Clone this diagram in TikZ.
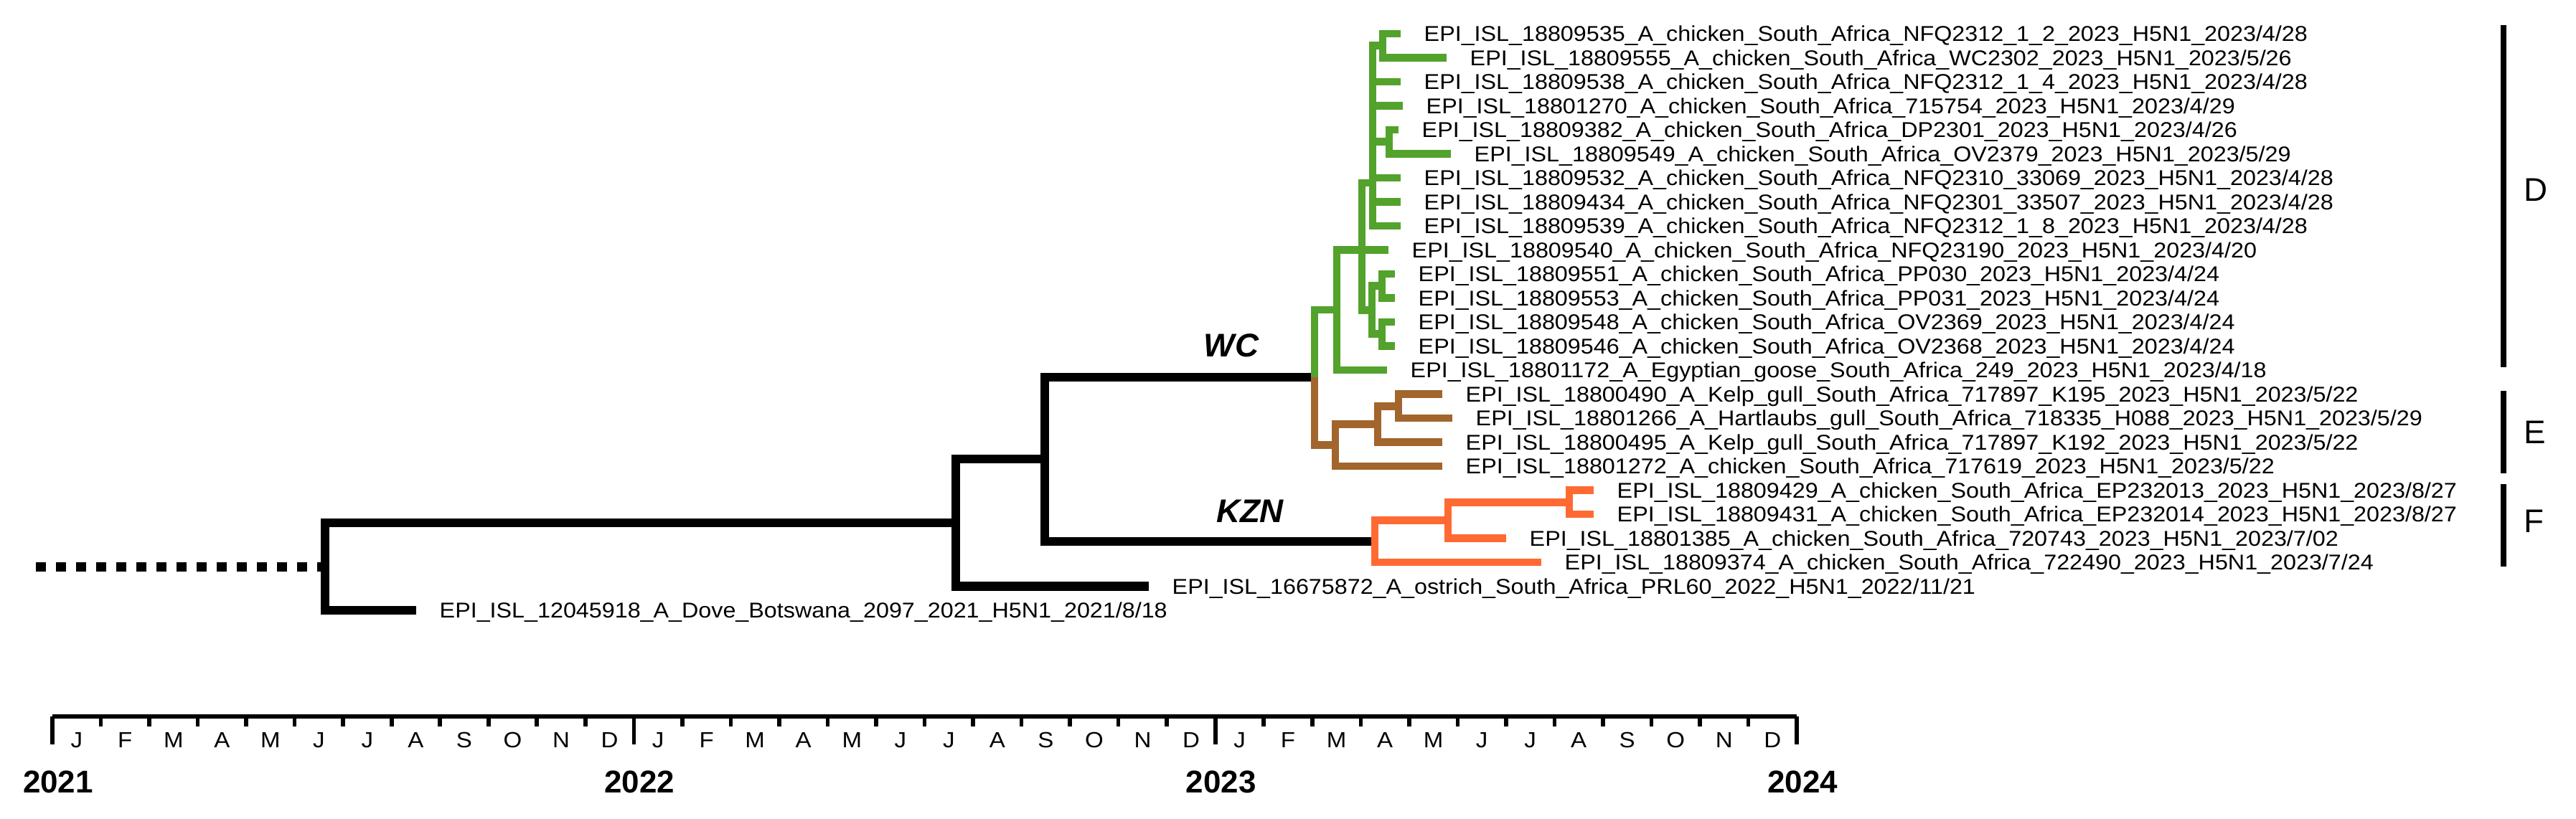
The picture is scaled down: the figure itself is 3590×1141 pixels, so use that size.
\documentclass[tikz,border=0pt]{standalone}
\usepackage{fontspec}
\setmainfont{Liberation Sans}
\newfontfamily\tipfont{Liberation Sans}[FakeStretch=1.08]
\usepackage{tikz}
\usetikzlibrary{positioning}
\definecolor{WCgreen}{HTML}{52A22C}
\definecolor{WCbrown}{HTML}{A2652C}
\definecolor{KZNorange}{HTML}{FF6A33}

\begin{document}
\begin{tikzpicture}[x=0.01cm, y=-0.01cm,
                    branch/.style={line width=3.6pt},
                    rootstem/.style={line width=3.7pt, dash pattern=on 0.14cm off 0.14cm},
                    cladeD/.style={line width=3.1pt, draw=WCgreen},
                    cladeE/.style={line width=3.1pt, draw=WCbrown},
                    cladeF/.style={line width=3.1pt, draw=KZNorange},
                    tiplabel/.style={font=\tipfont\fontsize{8.5}{10}\selectfont, inner sep=0pt,
                                     text height=6.1pt, text depth=0pt},
                    cladename/.style={font=\fontsize{13}{15}\selectfont\bfseries\itshape, inner sep=0pt},
                    cladebar/.style={line width=2.4pt},
                    groupname/.style={font=\fontsize{13}{15}\selectfont, inner sep=0pt, anchor=west},
                    axisline/.style={line width=1.6pt},
                    monthname/.style={font=\tipfont\fontsize{8.7}{10}\selectfont, inner sep=0pt},
                    yearname/.style={font=\fontsize{12.5}{15}\selectfont\bfseries, inner sep=0pt}]
\useasboundingbox (0,0) rectangle (3590,1141);

\coordinate (stem) at (50,790);
\coordinate (root) at (453,790);
\coordinate (nR2) at (1332,729);
\coordinate (nW) at (1456,640);
\coordinate (nJ) at (1832,526);
\coordinate (nK) at (1916,755);
\coordinate (nG) at (1863,432);
\coordinate (nU) at (1898,348.5);
\coordinate (nA) at (1913,255);
\coordinate (n12) at (1927,63.75);
\coordinate (n56) at (1936,197.75);
\coordinate (nL) at (1912,432.25);
\coordinate (nL1) at (1926,398.75);
\coordinate (nL2) at (1926,465.75);
\coordinate (nB1) at (1861,620.7);
\coordinate (nB2) at (1920,591.4);
\coordinate (nB3) at (1949,566.25);
\coordinate (nO1) at (2018,725.4);
\coordinate (nO2) at (2187,700.25);

\coordinate (t1) at (1952,47);
\coordinate (t2) at (2016,80.5);
\coordinate (t3) at (1952,114);
\coordinate (t4) at (1955,147.5);
\coordinate (t5) at (1949,181);
\coordinate (t6) at (2022,214.5);
\coordinate (t7) at (1952,248);
\coordinate (t8) at (1952,281.5);
\coordinate (t9) at (1952,315);
\coordinate (t10) at (1935,348.5);
\coordinate (t11) at (1944,382);
\coordinate (t12) at (1944,415.5);
\coordinate (t13) at (1944,449);
\coordinate (t14) at (1944,482.5);
\coordinate (t15) at (1933,516);
\coordinate (t16) at (2010,549.5);
\coordinate (t17) at (2024,583);
\coordinate (t18) at (2010,616.5);
\coordinate (t19) at (2010,650);
\coordinate (t20) at (2221,683.5);
\coordinate (t21) at (2221,717);
\coordinate (t22) at (2099,750.5);
\coordinate (t23) at (2148,784);
\coordinate (t24) at (1601,817.5);
\coordinate (t25) at (580,851);

\draw[rootstem] (stem) -- (root);
\foreach \p/\c in {root/nR2, root/t25, nR2/nW, nR2/t24, nW/nJ, nW/nK}
  \draw[branch] (\p) |- (\c);
\foreach \p/\c in {nJ/nG, nG/nU, nG/t15, nU/nA, nU/t10, nU/nL,
                   nA/n12, nA/t3, nA/t4, nA/n56, nA/t7, nA/t8, nA/t9,
                   n12/t1, n12/t2, n56/t5, n56/t6,
                   nL/nL1, nL/nL2, nL1/t11, nL1/t12, nL2/t13, nL2/t14}
  \draw[cladeD] (\p) |- (\c);
\foreach \p/\c in {nJ/nB1, nB1/nB2, nB1/t19, nB2/nB3, nB2/t18, nB3/t16, nB3/t17}
  \draw[cladeE] (\p) |- (\c);
\foreach \p/\c in {nK/nO1, nK/t23, nO1/nO2, nO1/t22, nO2/t20, nO2/t21}
  \draw[cladeF] (\p) |- (\c);

\node[right=0.32cm of t1, tiplabel] (l1) {EPI\_ISL\_18809535\_A\_chicken\_South\_Africa\_NFQ2312\_1\_2\_2023\_H5N1\_2023/4/28};
\node[right=0.32cm of t2, tiplabel] (l2) {EPI\_ISL\_18809555\_A\_chicken\_South\_Africa\_WC2302\_2023\_H5N1\_2023/5/26};
\node[right=0.32cm of t3, tiplabel] (l3) {EPI\_ISL\_18809538\_A\_chicken\_South\_Africa\_NFQ2312\_1\_4\_2023\_H5N1\_2023/4/28};
\node[right=0.32cm of t4, tiplabel] (l4) {EPI\_ISL\_18801270\_A\_chicken\_South\_Africa\_715754\_2023\_H5N1\_2023/4/29};
\node[right=0.32cm of t5, tiplabel] (l5) {EPI\_ISL\_18809382\_A\_chicken\_South\_Africa\_DP2301\_2023\_H5N1\_2023/4/26};
\node[right=0.32cm of t6, tiplabel] (l6) {EPI\_ISL\_18809549\_A\_chicken\_South\_Africa\_OV2379\_2023\_H5N1\_2023/5/29};
\node[right=0.32cm of t7, tiplabel] (l7) {EPI\_ISL\_18809532\_A\_chicken\_South\_Africa\_NFQ2310\_33069\_2023\_H5N1\_2023/4/28};
\node[right=0.32cm of t8, tiplabel] (l8) {EPI\_ISL\_18809434\_A\_chicken\_South\_Africa\_NFQ2301\_33507\_2023\_H5N1\_2023/4/28};
\node[right=0.32cm of t9, tiplabel] (l9) {EPI\_ISL\_18809539\_A\_chicken\_South\_Africa\_NFQ2312\_1\_8\_2023\_H5N1\_2023/4/28};
\node[right=0.32cm of t10, tiplabel] (l10) {EPI\_ISL\_18809540\_A\_chicken\_South\_Africa\_NFQ23190\_2023\_H5N1\_2023/4/20};
\node[right=0.32cm of t11, tiplabel] (l11) {EPI\_ISL\_18809551\_A\_chicken\_South\_Africa\_PP030\_2023\_H5N1\_2023/4/24};
\node[right=0.32cm of t12, tiplabel] (l12) {EPI\_ISL\_18809553\_A\_chicken\_South\_Africa\_PP031\_2023\_H5N1\_2023/4/24};
\node[right=0.32cm of t13, tiplabel] (l13) {EPI\_ISL\_18809548\_A\_chicken\_South\_Africa\_OV2369\_2023\_H5N1\_2023/4/24};
\node[right=0.32cm of t14, tiplabel] (l14) {EPI\_ISL\_18809546\_A\_chicken\_South\_Africa\_OV2368\_2023\_H5N1\_2023/4/24};
\node[right=0.32cm of t15, tiplabel] (l15) {EPI\_ISL\_18801172\_A\_Egyptian\_goose\_South\_Africa\_249\_2023\_H5N1\_2023/4/18};
\node[right=0.32cm of t16, tiplabel] (l16) {EPI\_ISL\_18800490\_A\_Kelp\_gull\_South\_Africa\_717897\_K195\_2023\_H5N1\_2023/5/22};
\node[right=0.32cm of t17, tiplabel] (l17) {EPI\_ISL\_18801266\_A\_Hartlaubs\_gull\_South\_Africa\_718335\_H088\_2023\_H5N1\_2023/5/29};
\node[right=0.32cm of t18, tiplabel] (l18) {EPI\_ISL\_18800495\_A\_Kelp\_gull\_South\_Africa\_717897\_K192\_2023\_H5N1\_2023/5/22};
\node[right=0.32cm of t19, tiplabel] (l19) {EPI\_ISL\_18801272\_A\_chicken\_South\_Africa\_717619\_2023\_H5N1\_2023/5/22};
\node[right=0.32cm of t20, tiplabel] (l20) {EPI\_ISL\_18809429\_A\_chicken\_South\_Africa\_EP232013\_2023\_H5N1\_2023/8/27};
\node[right=0.32cm of t21, tiplabel] (l21) {EPI\_ISL\_18809431\_A\_chicken\_South\_Africa\_EP232014\_2023\_H5N1\_2023/8/27};
\node[right=0.32cm of t22, tiplabel] (l22) {EPI\_ISL\_18801385\_A\_chicken\_South\_Africa\_720743\_2023\_H5N1\_2023/7/02};
\node[right=0.32cm of t23, tiplabel] (l23) {EPI\_ISL\_18809374\_A\_chicken\_South\_Africa\_722490\_2023\_H5N1\_2023/7/24};
\node[right=0.32cm of t24, tiplabel] (l24) {EPI\_ISL\_16675872\_A\_ostrich\_South\_Africa\_PRL60\_2022\_H5N1\_2022/11/21};
\node[right=0.32cm of t25, tiplabel] (l25) {EPI\_ISL\_12045918\_A\_Dove\_Botswana\_2097\_2021\_H5N1\_2021/8/18};

\node[cladename] (wc) at (1716,482) {WC};
\node[cladename] (kzn) at (1742,713) {KZN};

\coordinate (Dtop) at (3489,35);
\coordinate (Dbot) at (3489,512);
\coordinate (Etop) at (3489,545);
\coordinate (Ebot) at (3489,660);
\coordinate (Ftop) at (3489,675);
\coordinate (Fbot) at (3489,790);
\draw[cladebar] (Dtop) -- (Dbot);
\draw[cladebar] (Etop) -- (Ebot);
\draw[cladebar] (Ftop) -- (Fbot);
\node[groupname] (gD) at (3517,265) {D};
\node[groupname] (gE) at (3517,603) {E};
\node[groupname] (gF) at (3517,727) {F};

\coordinate (ax0) at (73,999);
\coordinate (ax1) at (2504,999);
\draw[axisline] (ax0) -- (ax1);
\foreach \m in {1,...,35}
  \draw[axisline] (73+\m*67.53,999) -- ++(0,14);
\foreach \m in {0,12,24,36}
  \draw[axisline] (73+\m*67.53,999) -- ++(0,39);
\foreach \yr in {0,1,2}
  \foreach \mon [count=\i from 0] in {J,F,M,A,M,J,J,A,S,O,N,D}
    \node[monthname] (m\yr-\i) at (106.77+\yr*810.36+\i*67.53,1032) {\mon};
\foreach \yr [count=\i from 0] in {2021,2022,2023,2024}
  \node[yearname] (y\yr) at (81+\i*810.36,1090) {\yr};
\end{tikzpicture}
\end{document}
